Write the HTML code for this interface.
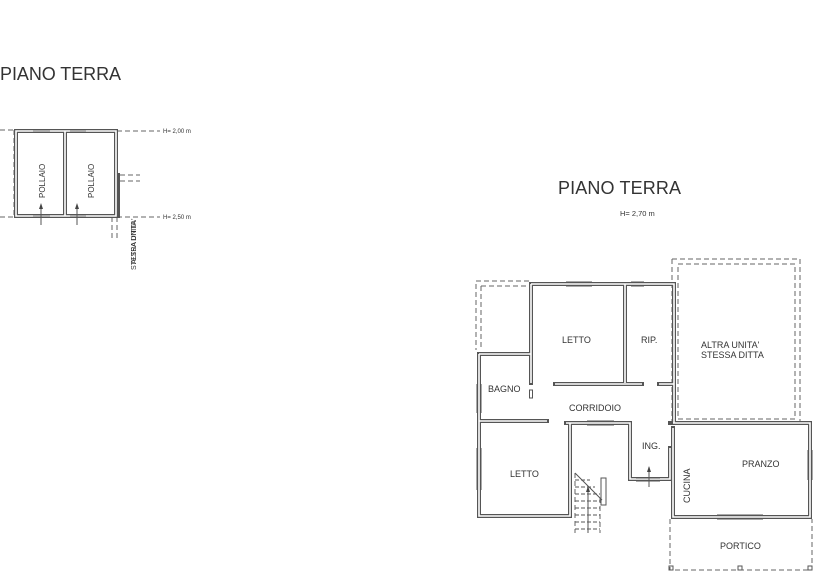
<!DOCTYPE html>
<html><head><meta charset="utf-8"><style>
html,body{margin:0;padding:0;background:#fff;width:820px;height:583px;overflow:hidden}
svg{display:block}
text{font-family:"Liberation Sans",sans-serif;fill:#333}
.w{fill:none;stroke:#555;stroke-width:4;stroke-linecap:square}
.wi{fill:none;stroke:#fff;stroke-width:1.6;stroke-linecap:butt}
.d{fill:none;stroke:#666;stroke-width:1;stroke-dasharray:5,3}
.t{fill:none;stroke:#555;stroke-width:1}
.l{font-size:9px}
</style></head><body>
<svg width="820" height="583" viewBox="0 0 820 583">
<text x="0" y="80" style="font-size:18px" fill="#111" textLength="121">PIANO TERRA</text>
<text x="558" y="194" style="font-size:18px" fill="#111" textLength="123">PIANO TERRA</text>
<text x="620" y="216" style="font-size:7.5px" fill="#555">H= 2,70 m</text>

<!-- Left plan -->
<g>
<path class="d" d="M0 130H15M14 130V217M0 217H15M117 131H160M117 217H160M120 175H140M120 181H140M112 217V240M117 217V240"/>
<text x="163" y="133" style="font-size:6px">H= 2,00 m</text>
<text x="163" y="219" style="font-size:6px">H= 2,50 m</text>
<path class="w" d="M16 131H116V216H16Z M65 131V216 M116 175H118V216"/>
<path class="wi" d="M16 131H116V216H16Z M65 131V216"/>
<path class="t" d="M33 130H50M33 132H50M70 130H86M70 132H86M33 215H50M33 217H50M70 215H86M70 217H86"/>
<path class="t" d="M41 225V205M77 225V205"/>
<path d="M39 209L41 203L43 209Z M75 209L77 203L79 209Z" fill="#444"/>
<text transform="translate(45,198) rotate(-90)" style="font-size:8px">POLLAIO</text>
<text transform="translate(94,198) rotate(-90)" style="font-size:8px">POLLAIO</text>
<text transform="translate(136,270) rotate(-90)" style="font-size:7px">STESSA DITTA</text>
<text transform="translate(136,270) rotate(-90)" style="font-size:7px" dx="6">ALTRA UNITA'</text>
</g>

<!-- Right plan -->
<path class="d" d="M529 281H476V350M481 286H529M481 286V350"/>
<path class="d" d="M672 259H800V423M672 259V423M678 264H795V419H678V264"/>
<path class="d" d="M670 519V570H812V519"/>
<rect x="669" y="566" width="4" height="4" class="t"/>
<rect x="738" y="566" width="4" height="4" class="t"/>
<rect x="808" y="566" width="4" height="4" class="t"/>

<path class="w" d="M531 284H674V423 M625 284V383 M531 284V383 M555 384H642 M659 384H674 M479 354H531 M479 354V516H570V423 M479 421H547 M566 423H630V479H670V448 M673 428V517H810V423H673 M670 423H674"/>
<path class="wi" d="M531 284H674V423 M625 284V383 M531 284V383 M555 384H642 M659 384H674 M479 354H531 M479 354V516H570V423 M479 421H547 M566 423H630V479H670V448 M673 428V517H810V423H673"/>
<rect x="529.5" y="390" width="3" height="8" fill="#fff" stroke="#555" stroke-width="1"/>
<!-- windows -->
<path class="t" d="M566 282H592M566 286H592M631 282H644M631 286H644M587 421H614M587 425H614M717 515H763M717 519H763M808 450V480M812 450V480M477 384V413M481 384V413M477 448V490M481 448V490M636 478H660M636 481H660"/>
<!-- stairs -->
<path class="d" d="M575 473V533M600 498V533"/>
<path class="t" stroke-dasharray="4,2" d="M575 480H590M575 487H595M575 494H600M575 501H600M575 508H600M575 515H600M575 522H600M575 529H600"/>
<path class="t" d="M575 473L602 500M588 533V488"/>
<rect x="601" y="478" width="5" height="27" class="t"/>
<path d="M586 492L588 486L590 492Z" fill="#444"/>
<path class="t" d="M649 487V467"/>
<path d="M647 472L649 466L651 472Z" fill="#444"/>

<text x="562" y="343" class="l">LETTO</text>
<text x="641" y="343" class="l">RIP.</text>
<text x="701" y="348" class="l">ALTRA UNITA'</text>
<text x="701" y="358" class="l">STESSA DITTA</text>
<text x="488" y="392" class="l">BAGNO</text>
<text x="569" y="411" class="l">CORRIDOIO</text>
<text x="642" y="449" class="l">ING.</text>
<text x="510" y="477" class="l">LETTO</text>
<text x="742" y="467" class="l">PRANZO</text>
<text transform="translate(690,503) rotate(-90)" class="l">CUCINA</text>
<text x="720" y="549" class="l">PORTICO</text>
</svg>
</body></html>
